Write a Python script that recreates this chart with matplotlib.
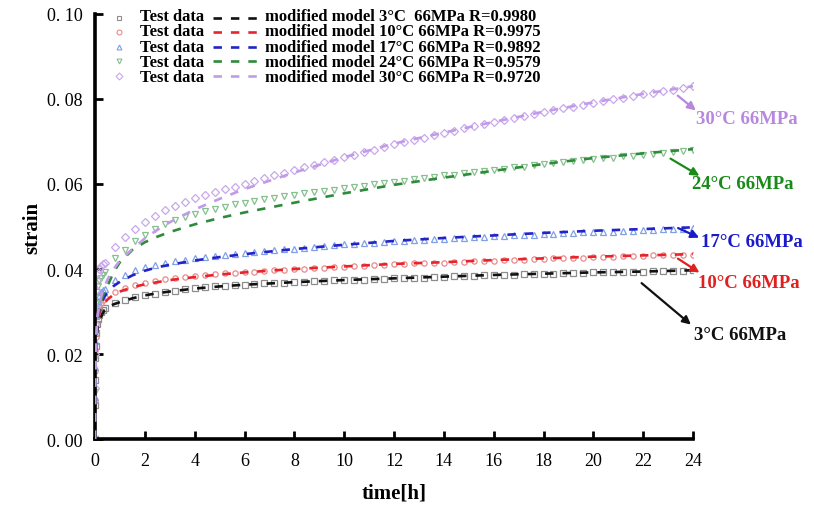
import numpy as np
import matplotlib
matplotlib.use('Agg')
import matplotlib.pyplot as plt
from matplotlib.lines import Line2D

plt.rcParams['font.family'] = ['Liberation Serif', 'DejaVu Serif']

# ---- creep data (strain vs time) at 66 MPa ----
temps = ['3°C', '10°C', '17°C', '24°C', '30°C']
r_values = ['0.9980', '0.9975', '0.9892', '0.9579', '0.9720']

# measured points: dense start, then every 0.4 h
t_early = [0, 0.005, 0.01, 0.02, 0.03, 0.05, 0.08, 0.12, 0.18, 0.25, 0.33]
t_late = np.round(np.arange(0.4, 24.01, 0.4), 2)
t_test = np.concatenate([t_early, t_late])

test_3 = [0, .008, .014, .019, .022, .025, .027, .0282, .0292, .0299, .0304,
          .0309, .0320, .0327, .0333, .0338, .0342, .0346, .0349, .0352, .0355,
          .0357, .0359, .0360, .0362, .0363, .0364, .0366, .0367, .0368, .0369,
          .0370, .0371, .0372, .0373, .0374, .0375, .0375, .0376, .0377, .0378,
          .0379, .0380, .0380, .0381, .0382, .0383, .0384, .0384, .0385, .0386,
          .0386, .0387, .0388, .0388, .0389, .0389, .0390, .0391, .0391, .0392,
          .0392, .0393, .0393, .0394, .0394, .0395, .0395, .0396, .0396, .0397]
test_10 = [0, .009, .016, .021, .024, .027, .029, .0302, .0313, .0321, .0328,
           .0333, .0347, .0355, .0362, .0367, .0372, .0376, .0379, .0382, .0384,
           .0386, .0388, .0390, .0391, .0393, .0394, .0396, .0397, .0398, .0400,
           .0401, .0402, .0403, .0404, .0405, .0406, .0407, .0409, .0410, .0411,
           .0412, .0413, .0414, .0414, .0415, .0416, .0417, .0418, .0419, .0420,
           .0421, .0422, .0422, .0423, .0424, .0425, .0425, .0426, .0427, .0428,
           .0428, .0429, .0430, .0430, .0431, .0432, .0432, .0433, .0433, .0434]
test_17 = [0, .010, .017, .023, .026, .029, .031, .0325, .0337, .0345, .0350,
           .0354, .0375, .0387, .0397, .0404, .0410, .0415, .0419, .0422, .0425,
           .0428, .0431, .0433, .0436, .0438, .0440, .0442, .0444, .0446, .0448,
           .0450, .0452, .0454, .0456, .0458, .0459, .0461, .0462, .0464, .0465,
           .0466, .0468, .0469, .0470, .0471, .0473, .0474, .0475, .0476, .0477,
           .0478, .0479, .0480, .0481, .0482, .0483, .0484, .0485, .0486, .0487,
           .0488, .0488, .0489, .0490, .0491, .0492, .0493, .0494, .0495, .0496]
test_24 = [0, .011, .019, .025, .029, .032, .0345, .0360, .0372, .0380, .0387,
           .0392, .0425, .0445, .0465, .0481, .0495, .0506, .0515, .0523, .0530,
           .0536, .0542, .0547, .0552, .0556, .0560, .0564, .0568, .0571, .0575,
           .0578, .0581, .0584, .0587, .0590, .0593, .0596, .0599, .0602, .0605,
           .0608, .0611, .0614, .0617, .0620, .0622, .0625, .0628, .0631, .0634,
           .0636, .0639, .0641, .0644, .0646, .0649, .0651, .0653, .0656, .0658,
           .0660, .0662, .0665, .0667, .0669, .0671, .0674, .0676, .0678, .0680]
test_30 = [0, .012, .020, .027, .031, .035, .0375, .0390, .0400, .0407, .0411,
           .0415, .0452, .0475, .0495, .0511, .0525, .0538, .0549, .0558, .0566,
           .0574, .0581, .0588, .0594, .0600, .0607, .0613, .0620, .0626, .0632,
           .0639, .0645, .0651, .0657, .0663, .0669, .0675, .0681, .0687, .0693,
           .0698, .0704, .0709, .0715, .0720, .0725, .0731, .0736, .0741, .0746,
           .0751, .0756, .0760, .0765, .0769, .0774, .0778, .0782, .0787, .0791,
           .0795, .0799, .0803, .0807, .0811, .0815, .0819, .0822, .0826, .0830]

# modified model curves
t_model = [0, 0.01, 0.03, 0.06, 0.1, 0.2, 0.35, 0.5, 0.75, 1, 1.5, 2, 2.5, 3,
           4, 5, 6, 8, 10, 12, 14, 16, 18, 20, 22, 24]
model_3 = [0, .012, .020, .024, .026, .0283, .0300, .0309, .0317, .0322, .0331,
           .0338, .0343, .0347, .0354, .0359, .0363, .0369, .0374, .0378, .0382,
           .0386, .0389, .0392, .0394, .0397]
model_10 = [0, .012, .020, .025, .0275, .0300, .0318, .0328, .0340, .0347, .0357,
            .0364, .0369, .0374, .0381, .0387, .0392, .0400, .0406, .0412, .0416,
            .0421, .0425, .0429, .0432, .0435]
model_17 = [0, .012, .020, .025, .028, .0310, .0332, .0345, .0360, .0370, .0385,
            .0396, .0404, .0410, .0420, .0428, .0435, .0447, .0457, .0466, .0473,
            .0479, .0485, .0490, .0494, .0498]
model_24 = [0, .012, .020, .025, .028, .0315, .0343, .0360, .0393, .0416, .0445,
            .0463, .0476, .0487, .0505, .0520, .0533, .0556, .0578, .0598, .0615,
            .0631, .0647, .0661, .0672, .0682]
model_30 = [0, .012, .020, .025, .029, .0325, .0355, .0375, .0400, .0420, .0447,
            .0472, .0492, .0510, .0540, .0565, .0588, .0627, .0663, .0695, .0721,
            .0746, .0770, .0792, .0812, .0830]

tests = [test_3, test_10, test_17, test_24, test_30]
models = [model_3, model_10, model_17, model_24, model_30]

marker_styles = ['s', 'o', '^', 'v', 'D']
marker_colors = ['#8c8c8c', '#e88a8a', '#7f9fe6', '#86c08e', '#c9a8ea']
line_colors = ['#111111', '#e8242a', '#2323c8', '#2e8b3a', '#c29aea']
label_colors = ['#111111', '#e02020', '#1a1acc', '#1a8a1a', '#b888e0']
dash = (0, (3.2, 3.4))

# annotation arrows (tail, head) and label anchor, in data units
arrows = [((21.85, 0.0371), (24.0, 0.0265)),
          ((23.3, 0.0428), (24.35, 0.0388)),
          ((23.3, 0.0499), (24.35, 0.0471)),
          ((23.0, 0.0663), (24.35, 0.0616)),
          ((23.3, 0.0812), (24.2, 0.0769))]
label_pos = [(24.05, 0.0247), (24.2, 0.0369), (24.3, 0.0464), (23.95, 0.0600),
             (24.1, 0.0755)]

fig = plt.figure(figsize=(8.14, 5.06), dpi=100)
ax = fig.add_axes([0.1167, 0.1304, 0.7347, 0.8400])

for i in range(5):
    ax.plot(t_test, tests[i], linestyle='none', marker=marker_styles[i],
            ms=3.8, mfc='none', mec=marker_colors[i], mew=0.9, zorder=2)
for i in range(5):
    ax.plot(t_model, models[i], linestyle=dash, color=line_colors[i],
            lw=1.9, zorder=3)

for i in range(5):
    (x0, y0), (x1, y1) = arrows[i]
    ax.annotate('', xy=(x1, y1), xytext=(x0, y0),
                arrowprops=dict(arrowstyle='-|>', color=label_colors[i], lw=1.6,
                                mutation_scale=12),
                annotation_clip=False)
    ax.text(label_pos[i][0], label_pos[i][1], temps[i] + ' 66MPa',
            color=label_colors[i], fontsize=13.5, fontweight='bold',
            va='center', ha='left', clip_on=False)

# legend block: marker + "Test data", dashed key + model label
row_y = [0.991, 0.957, 0.923, 0.889, 0.855]
for i in range(5):
    y = row_y[i]
    ax.add_line(Line2D([0.040], [y], transform=ax.transAxes, marker=marker_styles[i],
                       ms=3.5, mfc='none', mec=marker_colors[i], mew=0.8,
                       linestyle='none', clip_on=False))
    ax.add_line(Line2D([0.197, 0.279], [y, y], transform=ax.transAxes,
                       color=line_colors[i], lw=1.9, linestyle=dash,
                       clip_on=False))
model_lines = []
for i in range(5):
    sep = '  ' if i == 0 else ' '
    model_lines.append('modified model ' + temps[i] + sep + '66MPa R=' + r_values[i])
ax.text(0.075, row_y[2], '\n'.join(['Test data'] * 5), transform=ax.transAxes,
        fontsize=12, fontweight='bold', va='center', ha='left', linespacing=0.94)
ax.text(0.284, row_y[2], '\n'.join(model_lines), transform=ax.transAxes,
        fontsize=12, fontweight='bold', va='center', ha='left', linespacing=0.94)

ax.set_xlim(0, 24)
ax.set_ylim(0, 0.10)
ax.set_xticks(np.arange(0, 25, 2))
yt = np.arange(0, 0.101, 0.02)
ax.set_yticks(yt)
ax.set_yticklabels([f'{v:.2f}'.replace('.', '. ') for v in yt])

for s in ['top', 'right']:
    ax.spines[s].set_visible(False)
for s in ['left', 'bottom']:
    ax.spines[s].set_linewidth(2.6)
ax.tick_params(direction='in', length=6, width=2, labelsize=13, pad=9)
ax.tick_params(axis='x', pad=9)

ax.set_xlabel('time[h]', fontsize=15, fontweight='bold', labelpad=10)
ax.set_ylabel('strain', fontsize=15, fontweight='bold', labelpad=3)

fig.savefig('out.png', dpi=100)
